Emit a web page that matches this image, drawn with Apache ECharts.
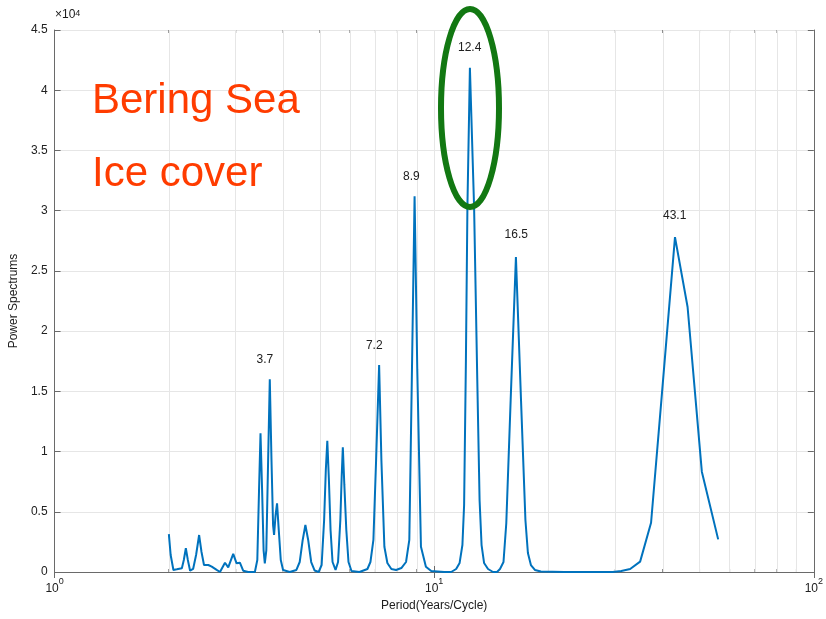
<!DOCTYPE html>
<html>
<head>
<meta charset="utf-8">
<script src="https://cdn.jsdelivr.net/npm/echarts@6/dist/echarts.min.js"></script>
<style>html,body{margin:0;padding:0;background:#fff}#c{width:826px;height:619px}</style>
</head>
<body>
<div id="c"></div>
<script>
// Period (years/cycle) of each sample along the spectrum
const periods = [
  2.000, 2.022, 2.056, 2.099, 2.164, 2.190, 2.217, 2.244, 2.275, 2.317, 2.359, 2.403, 2.438, 2.475, 2.541, 2.594, 2.673, 2.727, 2.811, 2.867, 2.955, 3.016, 3.077, 3.139, 3.236, 3.370,
  3.420, 3.456, 3.487, 3.521, 3.553, 3.579,
  3.612, 3.652, 3.689, 3.727, 3.763, 3.786,
  3.821, 3.855, 3.895, 3.943, 3.998, 4.163,
  4.335, 4.423, 4.504, 4.578, 4.656, 4.742, 4.843, 4.962,
  5.052, 5.129, 5.182, 5.229, 5.280, 5.333, 5.398, 5.497,
  5.581, 5.659, 5.707, 5.745, 5.798, 5.868, 5.946, 6.055, 6.355,
  6.670, 6.792, 6.916, 7.030, 7.160, 7.259, 7.392, 7.527, 7.712, 7.935,
  8.193, 8.429, 8.599, 8.730, 8.878, 9.024, 9.228, 9.509, 9.820, 10.623,
  11.083, 11.423, 11.667, 11.866, 11.989, 12.121, 12.232, 12.418, 12.737, 12.986, 13.168, 13.328, 13.532, 13.861, 14.288,
  14.637, 14.904, 15.224, 15.484, 15.901, 16.416, 16.930, 17.389, 17.654, 17.977, 18.417, 19.096,
  22.0, 26.0, 29.5, 31.11, 32.82, 34.87, 37.26, 39.74, 43.08, 46.50, 50.70, 55.98
];
// Power spectrum values
const power = [
  3150, 1410, 170, 220, 310, 1000, 1970, 1000, 110, 250, 1410, 3070, 1660, 580, 580, 440, 170, 0, 770, 390, 1500, 720, 770, 110, 0, 0,
  1000, 6800, 11520, 6800, 1800, 720,
  1800, 9300, 16000, 9300, 3900, 3070,
  4730, 5700, 3500, 1000, 170, 0,
  170, 830, 2660, 3900, 2660, 830, 120, 0,
  580, 4320, 8470, 10900, 7640, 3490, 830, 170,
  830, 4320, 8060, 10350, 7230, 3490, 830, 80, 0,
  250, 830, 2660, 9300, 17190, 9300, 2100, 750, 250, 170,
  330, 830, 2660, 15950, 31200, 16780, 2100, 440, 80, 0,
  0, 250, 750, 2240, 5560, 17610, 30320, 41860, 30320, 15950, 5980, 2240, 750, 250, 0,
  0, 250, 830, 4045, 14290, 26140, 14290, 4320, 1580, 580, 170, 40,
  0, 0, 0, 80, 250, 860, 4090, 14560, 27800, 22000, 8330, 2710
];
// Peak annotation texts and their anchor positions
const peakTexts = ['3.7', '7.2', '8.9', '12.4', '16.5', '43.1'];
const peakTextPeriods = [3.579, 6.95, 8.704, 12.40, 16.45, 43.0];
const peakTextValues = [17610, 18770, 32810, 43520, 27990, 29570];
// Axis ticks
const xMinorTicks = [2, 3, 4, 5, 6, 7, 8, 9, 20, 30, 40, 50, 60, 70, 80, 90];

const FONT = 'Liberation Sans, Arial, Helvetica, sans-serif';
const AX = '#6a6a6a';
const GRID = '#e6e6e6';
const TXT = '#202020';

const chart = echarts.init(document.getElementById('c'), null, {renderer: 'canvas'});
const lineData = periods.map((p, i) => [p, power[i]]);
const labelData = peakTexts.map((t, i) => ({value: [peakTextPeriods[i], peakTextValues[i]], name: t}));

const option = {
  animation: false,
  backgroundColor: '#fff',
  grid: {left: 54, right: 10, top: 30, bottom: 47, containLabel: false},
  xAxis: [{
    type: 'log', logBase: 10, min: 1, max: 100,
    name: 'Period(Years/Cycle)', nameLocation: 'middle', nameGap: 27,
    nameTextStyle: {fontFamily: FONT, fontSize: 12, color: TXT},
    axisLine: {show: true, lineStyle: {color: AX, width: 1}},
    axisTick: {show: true, inside: true, length: 6, lineStyle: {color: AX}},
    splitLine: {show: true, lineStyle: {color: GRID, width: 1}},
    minorTick: {show: false}, minorSplitLine: {show: false},
    axisLabel: {
      margin: 5, color: TXT, fontFamily: FONT,
      formatter: v => '{b|10}{s|' + Math.round(Math.log10(v)) + '}',
      rich: {
        b: {fontSize: 12, lineHeight: 18, verticalAlign: 'bottom', color: TXT, fontFamily: FONT},
        s: {fontSize: 9, lineHeight: 9, verticalAlign: 'top', color: TXT, fontFamily: FONT}
      }
    }
  }, {
    type: 'log', logBase: 10, min: 1, max: 100, position: 'top',
    axisLine: {show: true, lineStyle: {color: AX, width: 1}},
    axisTick: {show: true, inside: true, length: 6, lineStyle: {color: AX}},
    axisLabel: {show: false}, splitLine: {show: false}
  }],
  yAxis: [{
    type: 'value', min: 0, max: 45000, interval: 5000,
    name: 'Power Spectrums', nameLocation: 'middle', nameGap: 30,
    nameTextStyle: {fontFamily: FONT, fontSize: 12, color: TXT},
    axisLine: {show: true, lineStyle: {color: AX, width: 1}},
    axisTick: {show: true, inside: true, length: 6, lineStyle: {color: AX}},
    splitLine: {show: true, lineStyle: {color: GRID, width: 1}},
    axisLabel: {margin: 7, fontSize: 12, color: TXT, fontFamily: FONT,
      formatter: v => String(v / 10000)}
  }, {
    type: 'value', min: 0, max: 45000, interval: 5000, position: 'right',
    axisLine: {show: true, lineStyle: {color: AX, width: 1}},
    axisTick: {show: true, inside: true, length: 6, lineStyle: {color: AX}},
    axisLabel: {show: false}, splitLine: {show: false}
  }],
  series: [
    {
      type: 'line', data: [], z: 1, silent: true,
      markLine: {
        silent: true, symbol: 'none', animation: false,
        label: {show: false},
        lineStyle: {color: GRID, width: 1, type: 'solid'},
        data: xMinorTicks.map(v => ({xAxis: v}))
      }
    },
    {
      type: 'custom', z: 2, silent: true,
      data: xMinorTicks.map(v => [v, 0]),
      renderItem: (params, api) => {
        const v = api.value(0);
        const b = api.coord([v, 0]);
        const t = api.coord([v, 45000]);
        return {type: 'group', children: [
          {type: 'line', shape: {x1: b[0], y1: b[1], x2: b[0], y2: b[1] - 3}, style: {stroke: AX, lineWidth: 1}},
          {type: 'line', shape: {x1: t[0], y1: t[1], x2: t[0], y2: t[1] + 3}, style: {stroke: AX, lineWidth: 1}}
        ]};
      }
    },
    {
      type: 'line', data: lineData, z: 5,
      showSymbol: false, symbol: 'none', smooth: false,
      lineStyle: {color: '#0072BD', width: 2},
      itemStyle: {color: '#0072BD'}
    },
    {
      type: 'scatter', data: labelData, z: 6, symbolSize: 0, silent: true,
      itemStyle: {opacity: 1},
      label: {show: true, position: 'inside', formatter: p => p.name,
        fontFamily: FONT, fontSize: 12, color: TXT, opacity: 1}
    }
  ],
  graphic: [
    {type: 'text', left: 55, top: 9, z: 10,
      style: {text: '×10{s|4}', font: '12px ' + FONT, fill: TXT,
        rich: {s: {fontSize: 9, verticalAlign: 'top', lineHeight: 9, fill: TXT, fontFamily: FONT}}}},
    {type: 'text', z: 10,
      style: {text: 'Bering Sea', x: 92, y: 101, verticalAlign: 'middle', align: 'left',
        font: '42px ' + FONT, fill: '#ff3c00'}},
    {type: 'text', z: 10,
      style: {text: 'Ice cover', x: 92, y: 174, verticalAlign: 'middle', align: 'left',
        font: '42px ' + FONT, fill: '#ff3c00'}},
    {type: 'ellipse', z: 10,
      shape: {cx: 470, cy: 108, rx: 29, ry: 99},
      style: {fill: 'none', stroke: '#127812', lineWidth: 6}}
  ]
};
chart.setOption(option);
</script>
</body>
</html>
